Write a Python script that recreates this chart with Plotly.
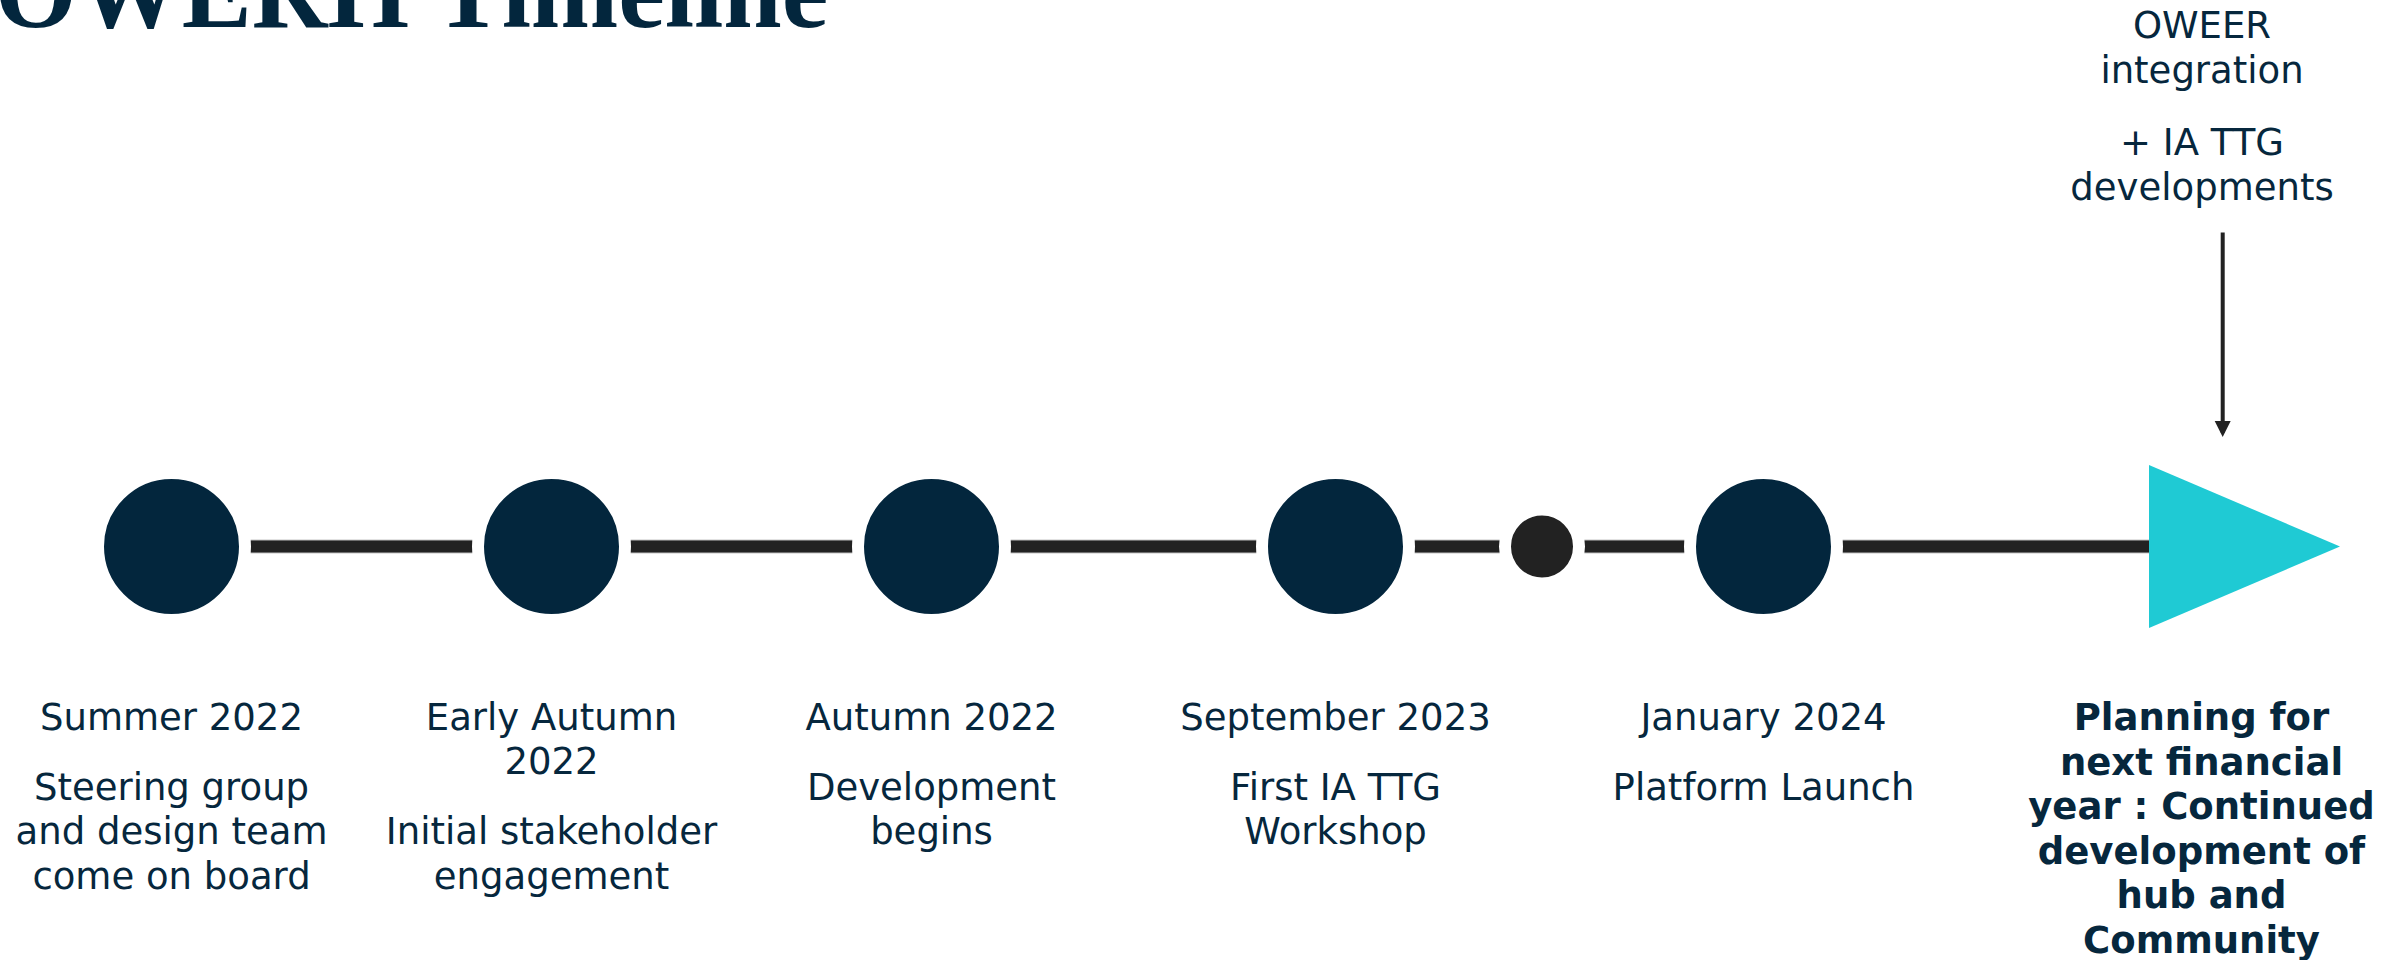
import plotly.graph_objects as go

# ---------------- data ----------------
title_text = "OWERH Timeline"
milestone_dates = ["Summer 2022", "Early Autumn<br>2022", "Autumn 2022", "September 2023", "January 2024"]
milestone_notes = [
    "Steering group<br>and design team<br>come on board",
    "Initial stakeholder<br>engagement",
    "Development<br>begins",
    "First IA TTG<br>Workshop",
    "Platform Launch",
]
milestone_pos = [171.5, 551.5, 931.5, 1335.5, 1763.5]   # position along the timeline
interim_pos = [1542]                                      # small interim dot
future_start, future_tip = 2149, 2340                     # end arrow of the timeline
future_label = "Planning for<br>next financial<br>year : Continued<br>development of<br>hub and<br>Community"
upcoming_notes = ["OWEER<br>integration", "+ IA TTG<br>developments"]

# ---------------- style ----------------
W, H = 2402, 960
NAVY = "#03263d"
TEXT = "#06273d"
DARK = "#222222"
CYAN = "#1fcad4"
FONT = "DejaVu Sans"
FS = 37
LINE_H = 44.8
PARA_GAP = 70
LINE_Y = 546.5
BIG_D = 135
SMALL_D = 62
RING = 12
ARROW_HALF_H = 81.5
LABEL_X_RIGHT = 2201.5


def text_y(baseline, fs=FS):
    # plotly scatter text 'middle' puts baseline at y + 0.25*fontsize
    return baseline - 0.25 * fs


fig = go.Figure()

# timeline bar (grey edge + dark core)
bar_x = [milestone_pos[0], future_start]
fig.add_trace(go.Scatter(x=bar_x, y=[LINE_Y, LINE_Y], mode="lines",
                         line=dict(color="#8a8a8a", width=13.5), hoverinfo="skip"))
fig.add_trace(go.Scatter(x=bar_x, y=[LINE_Y, LINE_Y], mode="lines",
                         line=dict(color=DARK, width=11.5), hoverinfo="skip"))

# milestone circles with white gap ring
fig.add_trace(go.Scatter(x=milestone_pos, y=[LINE_Y] * len(milestone_pos), mode="markers",
                         marker=dict(size=BIG_D + RING, color=NAVY,
                                     line=dict(color="white", width=RING)),
                         hoverinfo="skip"))
fig.add_trace(go.Scatter(x=interim_pos, y=[LINE_Y] * len(interim_pos), mode="markers",
                         marker=dict(size=SMALL_D + RING, color=DARK,
                                     line=dict(color="white", width=RING)),
                         hoverinfo="skip"))

# end arrow (triangle)
fig.add_trace(go.Scatter(x=[future_start, future_tip, future_start, future_start],
                         y=[LINE_Y - ARROW_HALF_H, LINE_Y, LINE_Y + ARROW_HALF_H, LINE_Y - ARROW_HALF_H],
                         mode="lines", fill="toself", fillcolor=CYAN,
                         line=dict(color=CYAN, width=0), hoverinfo="skip"))

# labels below milestones
tx, ty, tt = [], [], []
DATE_BASE = 729.5
for xpos, date, note in zip(milestone_pos, milestone_dates, milestone_notes):
    b = DATE_BASE
    dl = date.split("<br>")
    for i, ln in enumerate(dl):
        tx.append(xpos); ty.append(text_y(b)); tt.append(ln)
        if i < len(dl) - 1:
            b += LINE_H
    b += PARA_GAP
    for i, ln in enumerate(note.split("<br>")):
        tx.append(xpos); ty.append(text_y(b)); tt.append(ln)
        b += LINE_H

# future label (bold)
b = 730
for ln in future_label.split("<br>"):
    tx.append(LABEL_X_RIGHT); ty.append(text_y(b)); tt.append("<b>" + ln + "</b>")
    b += 44.6

# upcoming notes above
b = 38
for k, para in enumerate(upcoming_notes):
    lines = para.split("<br>")
    for i, ln in enumerate(lines):
        tx.append(LABEL_X_RIGHT + 0.5); ty.append(text_y(b)); tt.append(ln)
        if i < len(lines) - 1:
            b += 45
    b += 72

fig.add_trace(go.Scatter(x=tx, y=ty, text=tt, mode="text", textposition="middle center",
                         textfont=dict(family=FONT, size=FS, color=TEXT),
                         hoverinfo="skip", cliponaxis=False))

# title (partly off the top/left edge as in the reference)
TITLE_FS = 105
fig.add_annotation(xref="paper", yref="paper", x=0, y=1, xanchor="left", yanchor="top",
                   xshift=-7, yshift=69.5, showarrow=False,
                   text="<b>" + title_text + "</b>",
                   font=dict(family="Liberation Serif", size=TITLE_FS, color=NAVY))

# down arrow
fig.add_annotation(x=2222.7, y=437, ax=2222.7, ay=231, xref="x", yref="y", axref="x", ayref="y",
                   text="", showarrow=True, arrowhead=2, arrowwidth=4, arrowsize=0.8,
                   arrowcolor=DARK)

fig.update_layout(
    width=W, height=H, margin=dict(l=0, r=0, t=0, b=0),
    paper_bgcolor="white", plot_bgcolor="white", showlegend=False, hovermode=False,
    xaxis=dict(range=[0, W], visible=False, fixedrange=True),
    yaxis=dict(range=[H, 0], visible=False, fixedrange=True),
)

fig.write_html("out.html", config={"displayModeBar": False},
               post_script="document.body.style.margin='0';document.body.style.overflow='hidden';")
